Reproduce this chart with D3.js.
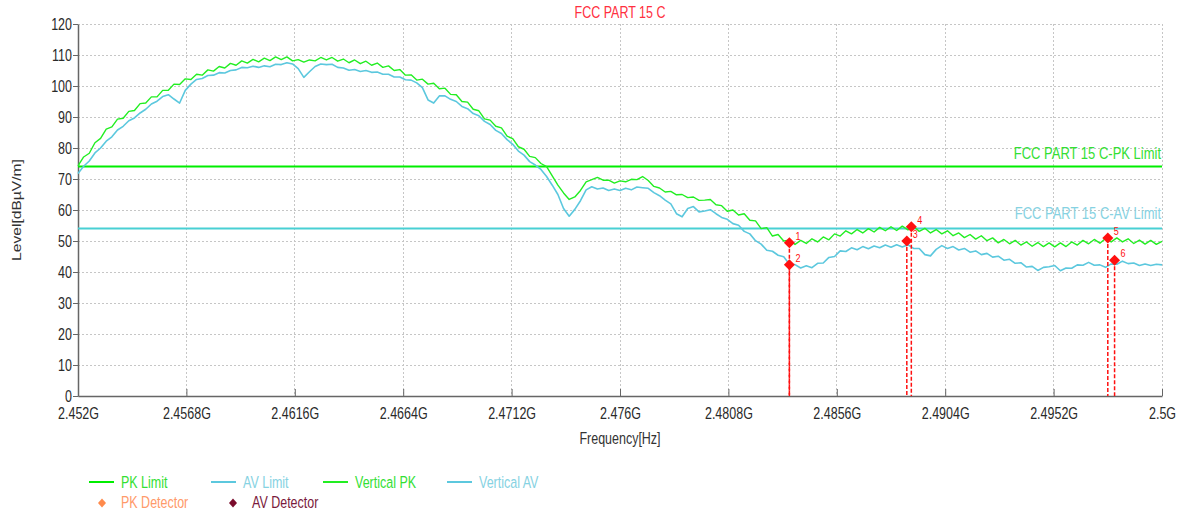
<!DOCTYPE html>
<html>
<head>
<meta charset="utf-8">
<script src="https://cdn.jsdelivr.net/npm/d3@7/dist/d3.min.js"></script>
<style>
  html, body { margin: 0; padding: 0; background: #fff; }
  svg { display: block; font-family: "Liberation Sans", Arial, sans-serif; }
</style>
</head>
<body>
<svg id="chart" width="1184" height="517"></svg>
<script>
// ---------------- DATA ----------------
const chartTitle = "FCC PART 15 C";
const sweepStartMHz = 2452;
const sweepStepMHz = 0.25;

const xTickValues = [2452, 2456.8, 2461.6, 2466.4, 2471.2, 2476, 2480.8, 2485.6, 2490.4, 2495.2, 2500];
const xTickLabels = ["2.452G", "2.4568G", "2.4616G", "2.4664G", "2.4712G", "2.476G", "2.4808G", "2.4856G", "2.4904G", "2.4952G", "2.5G"];
const yTickValues = [0, 10, 20, 30, 40, 50, 60, 70, 80, 90, 100, 110, 120];

const pkLimitLevel = 74;
const avLimitLevel = 54;
const pkLimitLabel = "FCC PART 15 C-PK Limit";
const avLimitLabel = "FCC PART 15 C-AV Limit";

const verticalPK = [
  74.2, 77.1, 78.3, 81.7, 83.1, 86.1, 86.8, 89.3, 89.6, 91.8,
  92.1, 94.3, 94.5, 96.5, 96.5, 98.6, 98.6, 100.6, 100.5, 102.3,
  102.1, 103.8, 103.5, 105.2, 104.8, 106.3, 105.8, 107.3, 106.7, 108.1,
  107.4, 108.6, 107.8, 109.0, 108.2, 109.4, 108.5, 109.4, 108.1, 108.5,
  107.7, 108.4, 108.1, 109.2, 108.4, 109.2, 108.0, 108.7, 107.5, 108.4,
  107.2, 108.0, 106.7, 107.4, 106.0, 106.5, 105.0, 105.3, 103.5, 103.6,
  101.9, 102.2, 100.6, 100.9, 99.1, 99.3, 97.3, 97.2, 95.0, 94.8,
  92.5, 92.0, 89.4, 89.0, 87.0, 86.5, 83.8, 83.0, 80.4, 79.6,
  77.3, 76.9, 75.0, 74.0, 71.0, 68.0, 65.5, 63.4, 64.2, 66.3,
  69.1, 69.8, 70.5, 69.6, 69.6, 68.7, 69.4, 69.1, 69.9, 69.8,
  70.8, 69.5, 67.6, 67.1, 65.8, 66.0, 64.9, 65.0, 64.0, 64.2,
  63.1, 63.2, 63.4, 61.7, 61.4, 59.6, 60.0, 58.4, 58.8, 56.7,
  56.5, 54.0, 54.3, 51.6, 52.1, 50.0, 50.3, 48.9, 50.2, 49.2,
  50.7, 49.7, 51.3, 50.4, 52.3, 51.6, 53.3, 52.3, 53.7, 52.6,
  54.0, 52.9, 54.4, 53.3, 54.6, 53.4, 54.8, 53.6, 54.7, 53.1,
  54.1, 52.6, 53.7, 52.3, 53.3, 51.7, 52.6, 51.1, 52.1, 50.6,
  51.7, 50.1, 51.0, 49.4, 50.5, 49.1, 50.2, 48.7, 49.7, 48.3,
  49.5, 48.2, 49.4, 48.1, 49.4, 48.2, 49.7, 48.7, 50.2, 49.1,
  50.5, 49.3, 50.8, 49.7, 51.0, 49.7, 50.7, 49.2, 50.3, 49.0,
  50.2, 48.9, 49.9
];

const verticalAV = [
  71.8, 74.1, 75.8, 78.4, 80.0, 82.2, 83.6, 85.8, 87.0, 88.8,
  89.7, 91.3, 92.5, 94.2, 95.1, 96.6, 97.2, 95.8, 94.5, 98.6,
  100.6, 102.1, 102.4, 103.4, 103.5, 104.3, 104.2, 105.0, 105.2, 106.0,
  105.9, 106.4, 106.0, 106.5, 106.2, 107.0, 106.9, 107.5, 107.1, 105.6,
  102.8, 104.6, 106.3, 107.1, 106.9, 107.0, 106.0, 105.8, 105.1, 105.3,
  104.7, 105.0, 104.4, 104.5, 103.8, 103.8, 102.9, 102.9, 102.0, 101.9,
  101.0, 99.5, 95.5, 94.5, 96.8, 96.8, 95.7, 95.0, 93.4, 92.7,
  91.1, 90.4, 88.6, 87.6, 85.7, 84.7, 82.7, 81.2, 79.0, 77.7,
  75.6, 74.5, 73.1, 70.8, 68.0, 65.0, 60.5, 58.0, 60.2, 63.0,
  66.5, 67.5, 66.8, 67.1, 66.3, 66.8, 66.3, 67.0, 66.5, 67.4,
  67.2, 67.0, 65.6, 64.6, 63.2, 62.0, 58.8, 57.8, 60.5, 61.1,
  59.4, 59.7, 60.1, 58.8, 57.6, 57.0, 55.6, 55.1, 53.1, 52.3,
  50.1, 49.0, 47.0, 46.7, 45.4, 44.9, 42.5, 42.4, 41.3, 42.0,
  41.4, 42.8, 42.9, 44.7, 45.0, 46.8, 46.6, 47.8, 47.2, 48.2,
  47.5, 48.4, 47.8, 48.7, 48.0, 48.8, 48.1, 48.8, 47.6, 47.6,
  45.6, 45.2, 47.3, 48.5, 47.6, 48.2, 47.1, 47.6, 46.4, 46.8,
  45.6, 46.0, 44.8, 45.1, 43.8, 44.1, 42.8, 43.0, 41.6, 41.8,
  40.5, 41.5, 41.7, 42.1, 40.4, 41.3, 41.2, 42.3, 42.2, 43.1,
  42.2, 42.3, 41.5, 42.6, 42.5, 43.5, 42.7, 42.9, 42.1, 42.6,
  42.1, 42.5, 42.3
];

const markerIds = ["1", "2", "3", "4", "5", "6"];
const markerFreqs = [2483.5, 2483.5, 2488.7, 2488.9, 2497.6, 2497.9];
const markerLevels = [49.4, 42.3, 50.0, 54.6, 51.0, 43.8];

const legendRow1 = ["PK Limit", "AV Limit", "Vertical PK", "Vertical AV"];
const legendRow2 = ["PK Detector", "AV Detector"];

// ---------------- STYLE ----------------
const C = {
  pkLimit: "#00ee00",
  avLimit: "#48d0d4",
  pk: "#22ee22",
  av: "#5cc8de",
  marker: "#ff1010",
  grid: "#c6c6c6",
  axis: "#666",
  text: "#2a2a2a",
  title: "#ff3040",
  pkText: "#33e033",
  avText: "#86d2e2",
  pkDet: "#ff8a4c",
  avDet: "#7a0c2c",
  pkDetText: "#ff9a6a",
  avDetText: "#7a1a3c"
};
const SY = 1.25;       // vertical stretch of the source image text
const FS = 12.5;

const svg = d3.select("#chart");
svg.append("rect").attr("width", 1184).attr("height", 517).attr("fill", "#fff");

const x = d3.scaleLinear().domain([2452, 2500]).range([78, 1162]);
const y = d3.scaleLinear().domain([0, 120]).range([396, 24]);

function stext(sel, px, py, str, color, anchor, size) {
  return sel.append("text")
    .attr("transform", `translate(${px},${py}) scale(1,${SY})`)
    .attr("text-anchor", anchor || "start")
    .attr("font-size", size || FS)
    .attr("fill", color)
    .text(str);
}

// grid
const grid = svg.append("g");
grid.selectAll("line.gx").data(xTickValues).join("line")
  .attr("x1", d => x(d)).attr("x2", d => x(d))
  .attr("y1", y(120)).attr("y2", y(0))
  .attr("stroke", C.grid).attr("stroke-width", 1).attr("stroke-dasharray", "2,2")
  .attr("shape-rendering", "crispEdges");
grid.selectAll("line.gy").data(yTickValues).join("line")
  .attr("x1", x(2452)).attr("x2", x(2500))
  .attr("y1", d => y(d)).attr("y2", d => y(d))
  .attr("stroke", C.grid).attr("stroke-width", 1).attr("stroke-dasharray", "2,2")
  .attr("shape-rendering", "crispEdges");

// axes
const xAxis = d3.axisBottom(x).tickValues(xTickValues)
  .tickFormat((d, i) => xTickLabels[i]).tickSizeInner(-7).tickSizeOuter(0);
const gx = svg.append("g").attr("transform", `translate(0,${y(0)})`).call(xAxis);
gx.select(".domain").attr("stroke", C.axis).attr("stroke-width", 1.5);
gx.selectAll(".tick line").attr("stroke", C.axis);
gx.selectAll(".tick text")
  .attr("y", null).attr("dy", null)
  .attr("transform", `translate(0,23) scale(1,${SY})`)
  .attr("font-size", FS).attr("font-family", "Liberation Sans, Arial, sans-serif")
  .attr("fill", C.text);

const yAxis = d3.axisLeft(y).tickValues(yTickValues).tickSizeInner(5).tickSizeOuter(0);
const gy = svg.append("g").attr("transform", `translate(${x(2452)},0)`).call(yAxis);
gy.select(".domain").attr("stroke", C.axis).attr("stroke-width", 1.5);
gy.selectAll(".tick line").attr("stroke", C.axis);
gy.selectAll(".tick text")
  .attr("x", null).attr("dy", null)
  .attr("transform", `translate(-6,5) scale(1,${SY})`)
  .attr("font-size", FS).attr("font-family", "Liberation Sans, Arial, sans-serif")
  .attr("fill", C.text);

// titles
stext(svg, 620, 18, chartTitle, C.title, "middle");
stext(svg, 620, 444, "Frequency[Hz]", "#333", "middle");
svg.append("text")
  .attr("transform", `translate(21,210) rotate(-90) scale(${SY},1)`)
  .attr("text-anchor", "middle").attr("font-size", FS).attr("fill", "#333")
  .text("Level[dBµV/m]");

// limit lines
svg.append("line").attr("x1", x(2452)).attr("x2", x(2500))
  .attr("y1", y(pkLimitLevel)).attr("y2", y(pkLimitLevel))
  .attr("stroke", C.pkLimit).attr("stroke-width", 2);
svg.append("line").attr("x1", x(2452)).attr("x2", x(2500))
  .attr("y1", y(avLimitLevel)).attr("y2", y(avLimitLevel))
  .attr("stroke", C.avLimit).attr("stroke-width", 2);
stext(svg, x(2500) - 1, y(pkLimitLevel) - 8, pkLimitLabel, C.pkText, "end", 13);
stext(svg, x(2500) - 1, y(avLimitLevel) - 10, avLimitLabel, C.avText, "end", 13);

// traces
const line = d3.line()
  .x((d, i) => x(sweepStartMHz + i * sweepStepMHz))
  .y(d => y(d));
svg.append("path").datum(verticalAV).attr("d", line)
  .attr("fill", "none").attr("stroke", C.av).attr("stroke-width", 1.6)
  .attr("stroke-linejoin", "round");
svg.append("path").datum(verticalPK).attr("d", line)
  .attr("fill", "none").attr("stroke", C.pk).attr("stroke-width", 1.4)
  .attr("stroke-linejoin", "round");

// markers
const markers = markerIds.map((id, i) => ({ id, f: markerFreqs[i], v: markerLevels[i] }));
const mg = svg.append("g");
mg.selectAll("line").data(markers).join("line")
  .attr("x1", d => x(d.f)).attr("x2", d => x(d.f))
  .attr("y1", d => y(d.v)).attr("y2", y(0))
  .attr("stroke", C.marker).attr("stroke-width", 1.5).attr("stroke-dasharray", "4,2");
const diamond = "M0,-5.5L5.5,0L0,5.5L-5.5,0Z";
mg.selectAll("path").data(markers).join("path")
  .attr("d", diamond)
  .attr("transform", d => `translate(${x(d.f)},${y(d.v)})`)
  .attr("fill", C.marker);
mg.selectAll("text").data(markers).join("text")
  .attr("transform", d => `translate(${x(d.f) + 6},${y(d.v) - 3}) scale(1,${SY})`)
  .attr("font-size", 9).attr("fill", C.marker)
  .text(d => d.id);

// legend
const lg = svg.append("g");
const row1Colors = [C.pkLimit, C.av, C.pk, C.av];
const row1TextColors = [C.pkText, C.avText, C.pkText, C.avText];
const row1X = [89, 211, 323, 447];
legendRow1.forEach((name, i) => {
  lg.append("line").attr("x1", row1X[i]).attr("x2", row1X[i] + 25)
    .attr("y1", 482).attr("y2", 482)
    .attr("stroke", row1Colors[i]).attr("stroke-width", 2);
  stext(lg, row1X[i] + 32, 488, name, row1TextColors[i], "start");
});
const row2X = [102, 233];
const row2Colors = [C.pkDet, C.avDet];
const row2TextColors = [C.pkDetText, C.avDetText];
legendRow2.forEach((name, i) => {
  lg.append("path").attr("d", "M0,-4.5L4,0L0,4.5L-4,0Z")
    .attr("transform", `translate(${row2X[i]},503)`)
    .attr("fill", row2Colors[i]);
  stext(lg, row2X[i] + 19, 508, name, row2TextColors[i], "start");
});
</script>
</body>
</html>
